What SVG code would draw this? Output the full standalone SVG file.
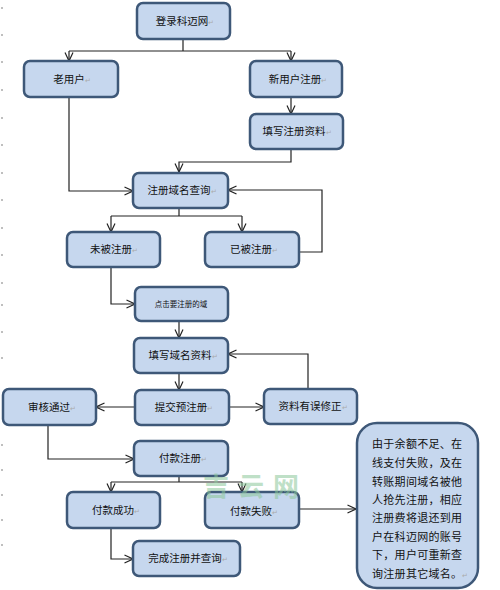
<svg xmlns="http://www.w3.org/2000/svg" width="500" height="590" viewBox="0 0 500 590">
<style>
.b{fill:#c6d7ee;stroke:#3e5878;stroke-width:2.5}
.t{font-family:"Noto Sans CJK SC","Liberation Sans",sans-serif;font-size:10.5px;fill:#111;text-anchor:middle}
.m{fill:#aaa;font-size:7px}
.c{fill:none;stroke:#222;stroke-width:1.2}
.d{fill:#aaa}
</style>
<defs>
<marker id="a" viewBox="0 0 10 10" refX="9.5" refY="5" markerWidth="10" markerHeight="10" markerUnits="userSpaceOnUse" orient="auto">
<path d="M1,1 L9.5,5 L1,9" fill="none" stroke="#222" stroke-width="1.2"/>
</marker>
</defs>
<rect width="500" height="590" fill="#fff"/>
<g id="margin">
<circle class="d" cx="2" cy="8" r="1"/><circle class="d" cx="2" cy="35" r="1"/><circle class="d" cx="2" cy="62" r="1"/><circle class="d" cx="2" cy="90" r="1"/><circle class="d" cx="2" cy="118" r="1"/><circle class="d" cx="2" cy="145" r="1"/><circle class="d" cx="2" cy="173" r="1"/><circle class="d" cx="2" cy="200" r="1"/><circle class="d" cx="2" cy="228" r="1"/><circle class="d" cx="2" cy="255" r="1"/><circle class="d" cx="2" cy="283" r="1"/><circle class="d" cx="2" cy="305" r="1"/><circle class="d" cx="2" cy="332" r="1"/><circle class="d" cx="2" cy="358" r="1"/><circle class="d" cx="2" cy="445" r="1"/><circle class="d" cx="2" cy="470" r="1"/><circle class="d" cx="2" cy="495" r="1"/><circle class="d" cx="2" cy="520" r="1"/><circle class="d" cx="2" cy="545" r="1"/>
</g>
<g id="connectors">
<path class="c" d="M183,39 V51 M69,51 H291" />
<path class="c" d="M69,51 V61" marker-end="url(#a)"/>
<path class="c" d="M291,51 V61" marker-end="url(#a)"/>
<path class="c" d="M291,97 V114" marker-end="url(#a)"/>
<path class="c" d="M69,97 V191 H133" marker-end="url(#a)"/>
<path class="c" d="M291,149 V162 H179 V172" marker-end="url(#a)"/>
<path class="c" d="M179,208 V216 M111,216 H242"/>
<path class="c" d="M111,216 V232" marker-end="url(#a)"/>
<path class="c" d="M242,216 V232" marker-end="url(#a)"/>
<path class="c" d="M299,252 H322 V190 H228" marker-end="url(#a)"/>
<path class="c" d="M111,267 V304 H135" marker-end="url(#a)"/>
<path class="c" d="M179,321 V338" marker-end="url(#a)"/>
<path class="c" d="M179,373 V390" marker-end="url(#a)"/>
<path class="c" d="M135,407 H96" marker-end="url(#a)"/>
<path class="c" d="M229,407 H264" marker-end="url(#a)"/>
<path class="c" d="M308,389 V354 H228" marker-end="url(#a)"/>
<path class="c" d="M48,425 V459 H134" marker-end="url(#a)"/>
<path class="c" d="M179,476 V482 M111,482 H242"/>
<path class="c" d="M111,482 V492" marker-end="url(#a)"/>
<path class="c" d="M242,482 V492" marker-end="url(#a)"/>
<path class="c" d="M111,528 V559 H133" marker-end="url(#a)"/>
<path class="c" d="M299,509 H356" marker-end="url(#a)"/>
</g>
<g id="n1"><rect class="b" x="137" y="3" width="93" height="36" rx="6"/><text class="t" x="185" y="25">登录科迈网<tspan class="m">↵</tspan></text></g>
<g id="n2"><rect class="b" x="24" y="61" width="94" height="36" rx="6"/><text class="t" x="72" y="83">老用户<tspan class="m">↵</tspan></text></g>
<g id="n3"><rect class="b" x="250" y="61" width="92" height="36" rx="6"/><text class="t" x="298" y="83">新用户注册<tspan class="m">↵</tspan></text></g>
<g id="n4"><rect class="b" x="250" y="114" width="93" height="35" rx="6"/><text class="t" x="297" y="135">填写注册资料<tspan class="m">↵</tspan></text></g>
<g id="n5"><rect class="b" x="133" y="173" width="95" height="35" rx="6"/><text class="t" x="182" y="194">注册域名查询<tspan class="m">↵</tspan></text></g>
<g id="n6"><rect class="b" x="67" y="232" width="93" height="35" rx="6"/><text class="t" x="114" y="253">未被注册<tspan class="m">↵</tspan></text></g>
<g id="n7"><rect class="b" x="205" y="232" width="94" height="35" rx="6"/><text class="t" x="254" y="253">已被注册<tspan class="m">↵</tspan></text></g>
<g id="n8"><rect class="b" x="135" y="287" width="93" height="34" rx="6"/><text class="t" x="181" y="307" style="font-size:7.5px">点击要注册的域</text></g>
<g id="n9"><rect class="b" x="134" y="338" width="94" height="35" rx="6"/><text class="t" x="183" y="359">填写域名资料<tspan class="m">↵</tspan></text></g>
<g id="n10"><rect class="b" x="135" y="390" width="94" height="35" rx="6"/><text class="t" x="184" y="411">提交预注册<tspan class="m">↵</tspan></text></g>
<g id="n11"><rect class="b" x="3" y="389" width="93" height="36" rx="6"/><text class="t" x="52" y="411">审核通过<tspan class="m">↵</tspan></text></g>
<g id="n12"><rect class="b" x="264" y="389" width="93" height="35" rx="6"/><text class="t" x="313" y="410">资料有误修正<tspan class="m">↵</tspan></text></g>
<g id="n13"><rect class="b" x="134" y="441" width="94" height="35" rx="6"/><text class="t" x="183" y="462">付款注册<tspan class="m">↵</tspan></text></g>
<g id="n14"><rect class="b" x="67" y="492" width="93" height="36" rx="6"/><text class="t" x="116" y="514">付款成功<tspan class="m">↵</tspan></text></g>
<g id="n15"><rect class="b" x="205" y="492" width="94" height="36" rx="6"/><text class="t" x="254" y="515">付款失败<tspan class="m">↵</tspan></text></g>
<g id="n16"><rect class="b" x="133" y="541" width="107" height="35" rx="6"/><text class="t" x="188" y="562">完成注册并查询<tspan class="m">↵</tspan></text></g>
<g id="n17"><rect class="b" x="357" y="423" width="121" height="165" rx="20"/>
<text class="t" style="font-size:11px;text-anchor:start;letter-spacing:0.3px">
<tspan x="372" y="448">由于余额不足、在</tspan>
<tspan x="372" y="467">线支付失败，及在</tspan>
<tspan x="372" y="486">转账期间域名被他</tspan>
<tspan x="372" y="504">人抢先注册，相应</tspan>
<tspan x="372" y="522">注册费将退还到用</tspan>
<tspan x="372" y="541">户在科迈网的账号</tspan>
<tspan x="372" y="559">下，用户可重新查</tspan>
<tspan x="372" y="578">询注册其它域名。<tspan class="m">↵</tspan></tspan>
</text></g>
<text x="203" y="495.5" style="font-family:'Noto Sans CJK SC',sans-serif;font-size:26px;letter-spacing:9px;font-weight:bold;fill:#8cc79a;opacity:0.55">吉云网</text>
</svg>
